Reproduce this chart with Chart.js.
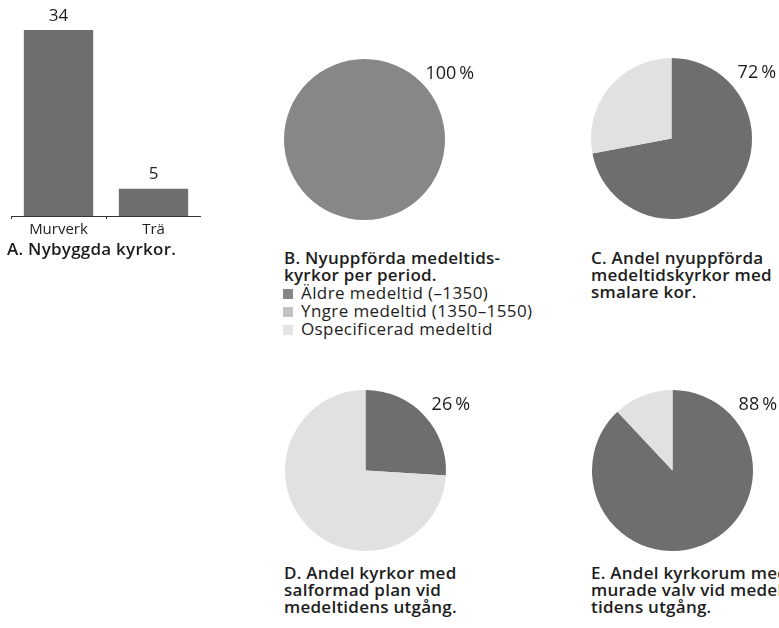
<!DOCTYPE html>
<html>
<head>
<meta charset="utf-8">
<script src="https://cdn.jsdelivr.net/npm/chart.js@4.4.1/dist/chart.umd.min.js"></script>
<style>
  html, body { margin: 0; padding: 0; background: #fff; width: 779px; height: 628px; overflow: hidden; }
  body { position: relative; font-family: 'Open Sans', 'Noto Sans', sans-serif; color: #1d1d1d; }
  canvas { position: absolute; }
  .cap { position: absolute; font-size: 17px; line-height: 17px; font-weight: 600; letter-spacing: 0.25px; white-space: nowrap; }
  .legend { position: absolute; font-size: 17px; line-height: 18px; letter-spacing: 0.4px; white-space: nowrap; }
  .legend span { display: inline-block; width: 10px; height: 10px; margin-right: 8px; }
</style>
</head>
<body>
<canvas id="barA" width="190" height="241" style="left:11px;top:0px"></canvas>
<canvas id="pieB" width="201" height="170" style="left:284px;top:50px"></canvas>
<canvas id="pieC" width="201" height="170" style="left:591px;top:49px"></canvas>
<canvas id="pieD" width="201" height="170" style="left:285px;top:381px"></canvas>
<canvas id="pieE" width="201" height="170" style="left:592px;top:381px"></canvas>

<div class="cap" style="left:7px;top:240px">A. Nybyggda kyrkor.</div>
<div class="cap" style="left:284px;top:249px">B. Nyuppförda medeltids-<br>kyrkor per period.</div>
<div class="legend" id="legendB" style="left:283px;top:284px"></div>
<div class="cap" style="left:591px;top:249px">C. Andel nyuppförda<br>medeltidskyrkor med<br>smalare kor.</div>
<div class="cap" style="left:284px;top:564px">D. Andel kyrkor med<br>salformad plan vid<br>medeltidens utgång.</div>
<div class="cap" style="left:591px;top:564px">E. Andel kyrkorum med<br>murade valv vid medel-<br>tidens utgång.</div>

<script>
// ── Data ──────────────────────────────────────────────────
const barCategories = ['Murverk', 'Trä'];
const barValues     = [34, 5];

const periodLabels  = ['Äldre medeltid (–1350)', 'Yngre medeltid (1350–1550)', 'Ospecificerad medeltid'];
const pieBValues    = [100, 0, 0];   // per period
const pieCValues    = [72, 28];      // smalare kor / övriga
const pieDValues    = [26, 74];      // salformad plan / övriga
const pieEValues    = [88, 12];      // murade valv / övriga

// ── Colours ───────────────────────────────────────────────
const DARK   = '#6e6e6e';
const LIGHT  = '#e1e1e1';
const PERIOD = ['#878787', '#c3c3c3', '#e4e4e4'];
const TEXT   = '#1d1d1d';
const FONT   = '"Open Sans", "Noto Sans", sans-serif';

Chart.defaults.font.family = FONT;
Chart.defaults.color = TEXT;
Chart.defaults.animation = false;

// ── Plugins ───────────────────────────────────────────────
const barValueLabels = {
  id: 'barValueLabels',
  afterDatasetsDraw(chart) {
    const ctx = chart.ctx;
    const meta = chart.getDatasetMeta(0);
    ctx.save();
    ctx.font = '17px ' + FONT;
    ctx.fillStyle = TEXT;
    ctx.textAlign = 'center';
    ctx.textBaseline = 'middle';
    meta.data.forEach((bar, i) => {
      ctx.fillText(chart.data.datasets[0].data[i], bar.x, bar.y - 14);
    });
    ctx.restore();
  }
};

const pctLabel = {
  id: 'pctLabel',
  afterDatasetsDraw(chart) {
    const data = chart.data.datasets[0].data;
    const total = data.reduce((a, b) => a + b, 0);
    const pct = Math.round(data[0] / total * 100);
    const arc = chart.getDatasetMeta(0).data[0];
    const ctx = chart.ctx;
    ctx.save();
    ctx.font = '18px ' + FONT;
    ctx.fillStyle = TEXT;
    ctx.textAlign = 'center';
    ctx.textBaseline = 'middle';
    ctx.fillText(pct + '\u2009%', arc.x + arc.outerRadius * 1.06, arc.y - arc.outerRadius * 0.81);
    ctx.restore();
  }
};

// ── A: bar chart ──────────────────────────────────────────
new Chart(document.getElementById('barA'), {
  type: 'bar',
  data: {
    labels: barCategories,
    datasets: [{
      data: barValues,
      backgroundColor: DARK,
      borderWidth: 0,
      categoryPercentage: 1,
      barPercentage: 0.73,
    }]
  },
  options: {
    responsive: false,
    layout: { padding: { top: 19, left: 0, right: 0 } },
    plugins: { legend: { display: false }, tooltip: { enabled: false } },
    scales: {
      x: {
        grid: { display: true, drawOnChartArea: false, drawTicks: true, tickLength: 3, color: '#333', offset: true },
        border: { display: true, color: '#333', width: 1 },
        ticks: { color: TEXT, font: { size: 15 }, padding: 2 },
      },
      y: { display: false, min: 0, max: 36 },
    }
  },
  plugins: [barValueLabels]
});

// ── B–E: pies ─────────────────────────────────────────────
function makePie(id, labels, values, colors) {
  new Chart(document.getElementById(id), {
    type: 'pie',
    data: {
      labels,
      datasets: [{ data: values, backgroundColor: colors, borderWidth: 0 }]
    },
    options: {
      responsive: false,
      layout: { padding: { top: 9, right: 40, left: 0, bottom: 0 } },
      plugins: { legend: { display: false }, tooltip: { enabled: false } },
    },
    plugins: [pctLabel]
  });
}

makePie('pieB', periodLabels, pieBValues, PERIOD);
makePie('pieC', ['Smalare kor', 'Övriga'], pieCValues, [DARK, LIGHT]);
makePie('pieD', ['Salformad plan', 'Övriga'], pieDValues, [DARK, LIGHT]);
makePie('pieE', ['Murade valv', 'Övriga'], pieEValues, [DARK, LIGHT]);

// Legend for B
document.getElementById('legendB').innerHTML = periodLabels
  .map((l, i) => `<div><span style="background:${PERIOD[i]}"></span>${l}</div>`)
  .join('');
</script>
</body>
</html>
